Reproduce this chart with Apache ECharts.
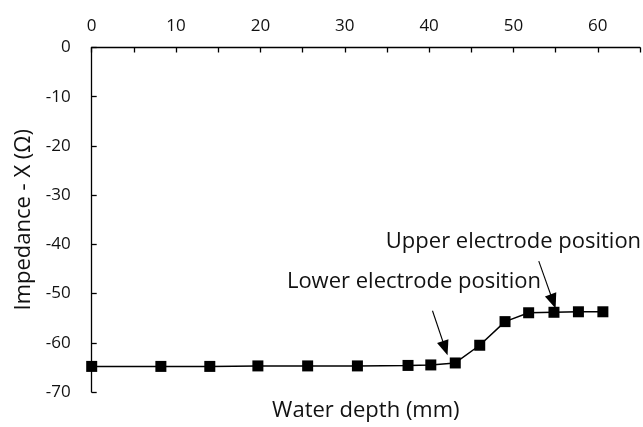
<!DOCTYPE html>
<html>
<head>
<meta charset="utf-8">
<script src="https://cdn.jsdelivr.net/npm/echarts@6/dist/echarts.min.js"></script>
<style>html,body{margin:0;padding:0;background:#fff}#c{width:643px;height:427px}</style>
</head>
<body>
<div id="c"></div>
<script>
var depth = [0, 8.2, 14.0, 19.7, 25.6, 31.5, 37.5, 40.2, 43.1, 46.0, 49.0, 51.8, 54.8, 57.7, 60.6];
var impedanceX = [-64.8, -64.8, -64.8, -64.7, -64.7, -64.7, -64.6, -64.5, -64.1, -60.5, -55.7, -53.9, -53.8, -53.7, -53.7];
var xTicks = [0, 10, 20, 30, 40, 50, 60];
var yTicks = [0, -10, -20, -30, -40, -50, -60, -70];
var annotations = [
  {text: 'Upper electrode position', at: [50.0, -39.4], arrowFrom: [53.0, -43.4], arrowTo: [54.7, -51.6]},
  {text: 'Lower electrode position', at: [38.2, -47.6], arrowFrom: [40.4, -53.5], arrowTo: [41.9, -61.1]}
];
var FONT = '"Open Sans", sans-serif';
var chart = echarts.init(document.getElementById('c'), null, {renderer: 'canvas'});
var data = depth.map(function (d, i) { return [d, impedanceX[i]]; });
chart.setOption({
  animation: false,
  backgroundColor: '#fff',
  grid: {left: 91.7, top: 47.5, right: 0.3, bottom: 33.7, containLabel: false},
  xAxis: [{
    type: 'value', position: 'top', min: 0, max: 65, interval: 5,
    axisLine: {show: true, onZero: false, lineStyle: {color: '#000', width: 1.3}},
    axisTick: {show: true, inside: true, length: 5, lineStyle: {color: '#000', width: 1.3}},
    axisLabel: {show: true, margin: 13, color: '#111', fontFamily: FONT, fontSize: 17,
      formatter: function (v) { return xTicks.indexOf(v) >= 0 ? String(v) : ''; }},
    splitLine: {show: false}
  }, {
    type: 'value', position: 'bottom', min: 0, max: 65,
    name: 'Water depth (mm)', nameLocation: 'middle', nameGap: 8,
    nameTextStyle: {color: '#111', fontFamily: FONT, fontSize: 22, verticalAlign: 'top'},
    axisLine: {show: false}, axisTick: {show: false}, axisLabel: {show: false}, splitLine: {show: false}
  }],
  yAxis: {
    type: 'value', min: -70, max: 0, interval: 10,
    name: 'Impedance - X (Ω)', nameLocation: 'middle', nameGap: 54, nameRotate: 90,
    nameTextStyle: {color: '#111', fontFamily: FONT, fontSize: 22},
    axisLine: {show: true, onZero: false, lineStyle: {color: '#000', width: 1.3}},
    axisTick: {show: true, inside: true, length: 5, lineStyle: {color: '#000', width: 1.3}},
    axisLabel: {show: true, margin: 21, color: '#111', fontFamily: FONT, fontSize: 17,
      formatter: function (v) { return yTicks.indexOf(v) >= 0 ? String(v) : ''; }},
    splitLine: {show: false}
  },
  series: [{
    type: 'line', xAxisIndex: 0, data: data,
    symbol: 'rect', symbolSize: 11,
    itemStyle: {color: '#000'},
    lineStyle: {color: '#000', width: 1.5},
    markLine: {
      silent: true, symbol: ['none', 'triangle'], symbolSize: [12, 15],
      lineStyle: {color: '#000', width: 1.1, type: 'solid'},
      label: {show: false},
      data: annotations.map(function (a) {
        return [{coord: a.arrowFrom}, {coord: a.arrowTo}];
      })
    },
    markPoint: {
      silent: true, symbol: 'circle', symbolSize: 0,
      label: {show: true, position: 'inside', color: '#111', fontFamily: FONT, fontSize: 22,
        formatter: function (p) { return p.name; }},
      data: annotations.map(function (a) { return {name: a.text, coord: a.at}; })
    }
  }]
});
</script>
</body>
</html>
